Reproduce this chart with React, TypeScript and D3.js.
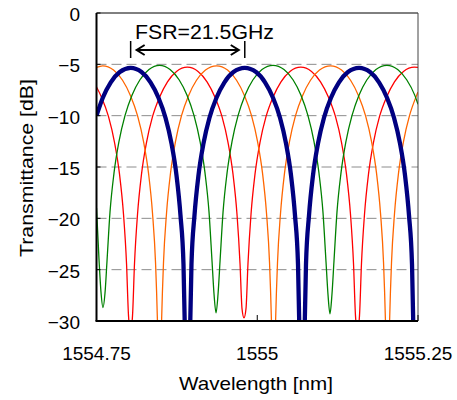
import React from "react";
import * as d3 from "d3";

// ---- data (wavelength nm, transmittance dB) ----
const xTicks = [1554.75, 1555, 1555.25];
const xTickLabels = ["1554.75", "1555", "1555.25"];
const yTicks = [0, -5, -10, -15, -20, -25, -30];
const yTickLabels = ["0", "\u22125", "\u221210", "\u221215", "\u221220", "\u221225", "\u221230"];
const gridValues = [-5, -10, -15, -20, -25];

const greenData: [number, number][] = [
  [1554.75, -19.0], [1554.7539, -24.0], [1554.757, -27.2], [1554.7601, -28.7], [1554.7632, -27.3],
  [1554.7663, -24.2], [1554.771, -19.4], [1554.7772, -15.6], [1554.785, -12.5], [1554.7943, -10.0],
  [1554.8052, -8.0], [1554.8176, -6.5], [1554.8316, -5.5], [1554.848, -5.1], [1554.8644, -5.5],
  [1554.8784, -6.5], [1554.8908, -8.0], [1554.9017, -10.0], [1554.911, -12.5], [1554.9188, -15.6],
  [1554.925, -19.4], [1554.9297, -24.2], [1554.9328, -27.4], [1554.9359, -29.2], [1554.939, -27.4],
  [1554.9421, -24.2], [1554.9468, -19.4], [1554.953, -15.6], [1554.9608, -12.5], [1554.9701, -10.0],
  [1554.981, -8.0], [1554.9934, -6.5], [1555.0074, -5.5], [1555.0245, -5.1], [1555.0416, -5.5],
  [1555.0556, -6.5], [1555.068, -8.0], [1555.0789, -10.0], [1555.0882, -12.5], [1555.096, -15.6],
  [1555.1022, -19.4], [1555.1069, -24.2], [1555.11, -27.4], [1555.1131, -29.3], [1555.1162, -27.4],
  [1555.1193, -24.2], [1555.124, -19.4], [1555.1302, -15.6], [1555.138, -12.5], [1555.1473, -10.0],
  [1555.1582, -8.0], [1555.1706, -6.5], [1555.1846, -5.5], [1555.2016, -5.1], [1555.2184, -5.5],
  [1555.2324, -6.5], [1555.2449, -8.0], [1555.25, -8.9],
];

const redData: [number, number][] = [
  [1554.75, -7.2], [1554.7578, -8.2], [1554.7687, -10.1], [1554.778, -12.6], [1554.7858, -15.7],
  [1554.792, -19.6], [1554.7967, -24.4], [1554.7998, -29.5], [1554.8029, -31.0], [1554.806, -29.5],
  [1554.8091, -24.4], [1554.8138, -19.6], [1554.82, -15.7], [1554.8278, -12.6], [1554.8371, -10.1],
  [1554.848, -8.2], [1554.8604, -6.7], [1554.8744, -5.7], [1554.8912, -5.28], [1554.9079, -5.7],
  [1554.9219, -6.7], [1554.9343, -8.2], [1554.9452, -10.1], [1554.9545, -12.6], [1554.9623, -15.7],
  [1554.9685, -19.6], [1554.9732, -24.4], [1554.9763, -28.8], [1554.9794, -29.7], [1554.9825, -28.8],
  [1554.9856, -24.4], [1554.9903, -19.6], [1554.9965, -15.7], [1555.0043, -12.6], [1555.0136, -10.1],
  [1555.0245, -8.2], [1555.0369, -6.7], [1555.0509, -5.7], [1555.0677, -5.28], [1555.0844, -5.7],
  [1555.0984, -6.7], [1555.1108, -8.2], [1555.1217, -10.1], [1555.131, -12.6], [1555.1388, -15.7],
  [1555.145, -19.6], [1555.1497, -24.4], [1555.1528, -29.5], [1555.1559, -31.0], [1555.159, -29.5],
  [1555.1621, -24.4], [1555.1668, -19.6], [1555.173, -15.7], [1555.1808, -12.6], [1555.1901, -10.1],
  [1555.201, -8.2], [1555.2134, -6.7], [1555.2274, -5.7], [1555.2443, -5.28], [1555.25, -5.3],
];

const orangeData: [number, number][] = [
  [1554.75, -5.3], [1554.7596, -5.15], [1554.7765, -5.55], [1554.7905, -6.55], [1554.8029, -8.05],
  [1554.8138, -10.0], [1554.8231, -12.5], [1554.8309, -15.6], [1554.8371, -19.5], [1554.8418, -24.3],
  [1554.8449, -30.3], [1554.848, -40.0], [1554.8511, -30.3], [1554.8542, -24.3], [1554.8589, -19.5],
  [1554.8651, -15.6], [1554.8729, -12.5], [1554.8822, -10.0], [1554.8931, -8.05], [1554.9055, -6.55],
  [1554.9195, -5.55], [1554.9367, -5.15], [1554.9538, -5.55], [1554.9678, -6.55], [1554.9802, -8.05],
  [1554.9911, -10.0], [1555.0004, -12.5], [1555.0082, -15.6], [1555.0144, -19.5], [1555.0191, -24.3],
  [1555.0222, -30.3], [1555.0253, -40.0], [1555.0284, -30.3], [1555.0315, -24.3], [1555.0362, -19.5],
  [1555.0424, -15.6], [1555.0502, -12.5], [1555.0595, -10.0], [1555.0704, -8.05], [1555.0828, -6.55],
  [1555.0968, -5.55], [1555.114, -5.15], [1555.1311, -5.55], [1555.1451, -6.55], [1555.1575, -8.05],
  [1555.1684, -10.0], [1555.1777, -12.5], [1555.1855, -15.6], [1555.1917, -19.5], [1555.1964, -24.3],
  [1555.1995, -30.3], [1555.2026, -40.0], [1555.2057, -30.3], [1555.2088, -24.3], [1555.2135, -19.5],
  [1555.2197, -15.6], [1555.2275, -12.5], [1555.2368, -10.0], [1555.2477, -8.05], [1555.25, -7.7],
];

const blueData: [number, number][] = [
  [1554.75, -10.0], [1554.7598, -8.25], [1554.7722, -6.75], [1554.7862, -5.75], [1554.8031, -5.35],
  [1554.82, -5.75], [1554.834, -6.75], [1554.8464, -8.25], [1554.8573, -10.2], [1554.8666, -12.7],
  [1554.8744, -15.8], [1554.8806, -19.7], [1554.8853, -24.5], [1554.8884, -34.0], [1554.8915, -45.0],
  [1554.8946, -34.0], [1554.8977, -24.5], [1554.9024, -19.7], [1554.9086, -15.8], [1554.9164, -12.7],
  [1554.9257, -10.2], [1554.9366, -8.25], [1554.949, -6.75], [1554.963, -5.75], [1554.9806, -5.35],
  [1554.9981, -5.75], [1555.0121, -6.75], [1555.0245, -8.25], [1555.0354, -10.2], [1555.0447, -12.7],
  [1555.0525, -15.8], [1555.0587, -19.7], [1555.0634, -24.5], [1555.0665, -34.0], [1555.0696, -45.0],
  [1555.0727, -34.0], [1555.0758, -24.5], [1555.0805, -19.7], [1555.0867, -15.8], [1555.0945, -12.7],
  [1555.1038, -10.2], [1555.1147, -8.25], [1555.1271, -6.75], [1555.1411, -5.75], [1555.1583, -5.35],
  [1555.1754, -5.75], [1555.1894, -6.75], [1555.2018, -8.25], [1555.2127, -10.2], [1555.222, -12.7],
  [1555.2298, -15.8], [1555.236, -19.7], [1555.2407, -24.5], [1555.2438, -34.0], [1555.2469, -45.0],
  [1555.25, -34.0],
];

// FSR annotation endpoints (nm)
const fsrMarks = [1554.8031, 1554.9806];
const fsrLabel = "FSR=21.5GHz";

const W = 457;
const H = 400;
const PL = 96.5;
const PR = 418;
const PT = 13;
const PB = 321;
const FONT = "'Liberation Sans', Arial, sans-serif";

export default function App() {
  const x = d3.scaleLinear().domain([1554.75, 1555.25]).range([PL, PR]);
  const y = d3.scaleLinear().domain([-30, 0]).range([PB, PT]);
  const line = d3
    .line<[number, number]>()
    .x((d) => x(d[0]))
    .y((d) => y(d[1]))
    .curve(d3.curveMonotoneX);

  const series = [
    { data: redData, color: "#FF0000", w: 1.3 },
    { data: orangeData, color: "#FF6600", w: 1.3 },
    { data: greenData, color: "#008000", w: 1.3 },
    { data: blueData, color: "#000080", w: 4.3 },
  ];

  const ax = x(fsrMarks[0]);
  const bx = x(fsrMarks[1]);
  const ay = 50;

  return (
    <svg
      width={W}
      height={H}
      style={{ position: "absolute", left: 0, top: 0, background: "#fff" }}
      fontFamily={FONT}
    >
      <defs>
        <clipPath id="plotClip">
          <rect x={PL} y={PT} width={PR - PL} height={PB - PT} />
        </clipPath>
      </defs>
      <rect x={0} y={0} width={W} height={H} fill="#fff" />

      {gridValues.map((v) => (
        <line
          key={v}
          x1={PL}
          x2={PR}
          y1={y(v)}
          y2={y(v)}
          stroke="#8c8c8c"
          strokeWidth={1}
          strokeDasharray="10,5"
        />
      ))}

      <g clipPath="url(#plotClip)">
        {series.map((s, i) => (
          <path
            key={i}
            d={line(s.data) || ""}
            fill="none"
            stroke={s.color}
            strokeWidth={s.w}
            strokeLinejoin="round"
          />
        ))}
      </g>

      {/* frame */}
      <line x1={PL} x2={PR} y1={PT} y2={PT} stroke="#000" strokeWidth={1} />
      <line x1={PR} x2={PR} y1={PT} y2={PB} stroke="#444" strokeWidth={1} />
      <line x1={PL} x2={PL} y1={PT} y2={PB} stroke="#000" strokeWidth={2} />
      <line x1={PL - 1} x2={PR} y1={PB} y2={PB} stroke="#000" strokeWidth={2} />

      {/* y ticks */}
      {yTicks.map((v, i) => (
        <g key={v}>
          <line x1={PL} x2={PL + 4} y1={y(v)} y2={y(v)} stroke="#000" strokeWidth={1} />
          <text x={80} y={y(v) + 8} textAnchor="end" fontSize={19} fill="#000">
            {yTickLabels[i]}
          </text>
        </g>
      ))}

      {/* x ticks */}
      {xTicks.map((v, i) => (
        <g key={v}>
          <line x1={x(v)} x2={x(v)} y1={PB} y2={PB - 6} stroke="#000" strokeWidth={1} />
          <text x={x(v)} y={360} textAnchor="middle" fontSize={19} fill="#000">
            {xTickLabels[i]}
          </text>
        </g>
      ))}

      <text
        x={256}
        y={390}
        textAnchor="middle"
        fontSize={19}
        fill="#000"
        textLength={154}
        lengthAdjust="spacingAndGlyphs"
      >
        Wavelength [nm]
      </text>
      <text
        transform={`translate(33,168) rotate(-90)`}
        textAnchor="middle"
        fontSize={19}
        fill="#000"
        textLength={178}
        lengthAdjust="spacingAndGlyphs"
      >
        Transmittance [dB]
      </text>

      {/* FSR annotation */}
      <text
        x={204.5}
        y={39}
        textAnchor="middle"
        fontSize={20}
        fill="#000"
        textLength={139}
        lengthAdjust="spacingAndGlyphs"
      >
        {fsrLabel}
      </text>
      <line x1={ax} x2={ax} y1={41} y2={58} stroke="#000" strokeWidth={1.5} />
      <line x1={bx} x2={bx} y1={41} y2={58} stroke="#000" strokeWidth={1.5} />
      <line x1={ax + 6} x2={bx - 6} y1={ay} y2={ay} stroke="#000" strokeWidth={2} />
      <polyline
        points={`${ax + 14},${ay - 5} ${ax + 6},${ay} ${ax + 14},${ay + 5}`}
        fill="none"
        stroke="#000"
        strokeWidth={2}
      />
      <polyline
        points={`${bx - 14},${ay - 5} ${bx - 6},${ay} ${bx - 14},${ay + 5}`}
        fill="none"
        stroke="#000"
        strokeWidth={2}
      />
    </svg>
  );
}
